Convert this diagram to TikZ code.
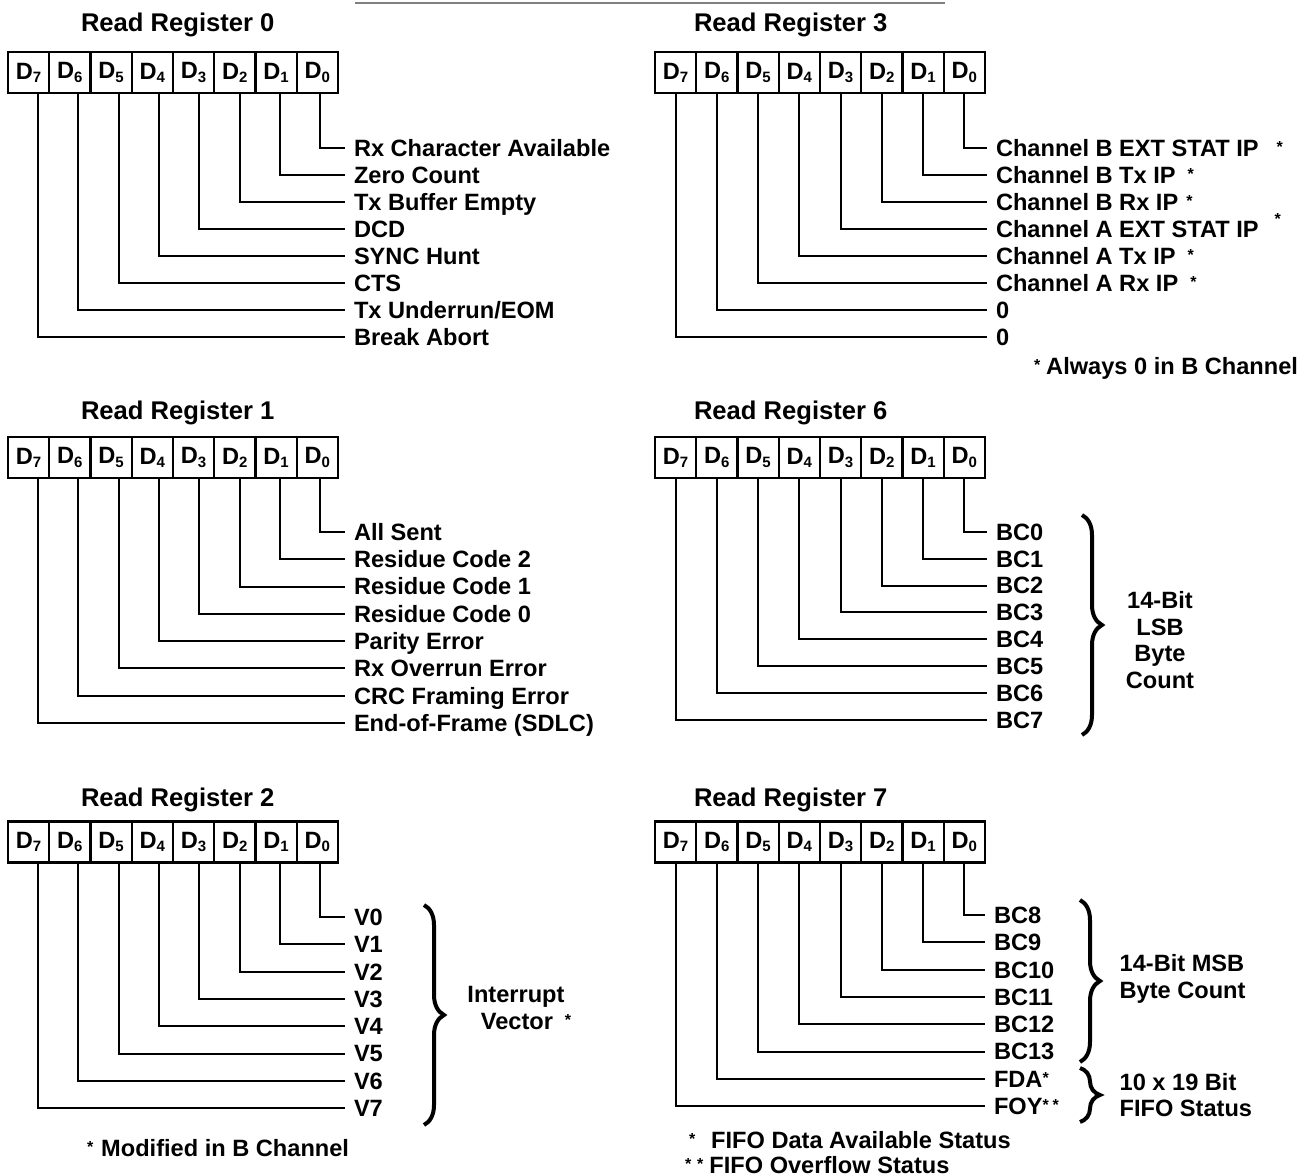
\documentclass[tikz,border=0pt]{standalone}
\usepackage{fontspec}
\setmainfont{Liberation Sans}
\usepackage{tikz}
\usetikzlibrary{decorations.pathreplacing}

\newcommand\bitsub[1]{\raisebox{-0.25ex}{\fontsize{7.5}{7.5}\selectfont #1}}
\newcommand\mk{\raisebox{0.3ex}{\fontsize{8}{8}\selectfont *}}

\begin{document}
\begin{tikzpicture}[
  x=0.5pt, y=-0.5pt,
  font=\bfseries\fontsize{11.8}{13.2}\selectfont,
  line width=1pt,
  cell/.style={draw, line width=1.2pt, minimum width=20.625pt, minimum height=20.5pt, inner sep=0pt},
  lbl/.style={anchor=west, inner xsep=4pt, inner ysep=0pt, text height=8.4pt, text depth=0pt},
  title/.style={anchor=base west, inner sep=0pt, font=\bfseries\fontsize{12.8}{14}\selectfont},
  note/.style={anchor=west, inner sep=0pt, text height=8.4pt, text depth=0pt},
  brc/.style={decorate, decoration={brace, amplitude=10pt}, line width=2pt},
]
  \useasboundingbox (0,0) rectangle (1308,1176);
  \draw[gray, line width=1pt] (355,3) -- (945,3);

  % Read Register 0
  \node[title] (t0) at (80,32) {Read Register 0};
  \foreach \b in {0,...,7}
    \node[cell] (r0d\b) at ({28.6+41.25*(7-\b)},72.5) {D\bitsub{\b}};
  \foreach \t [count=\i from 0] in {Rx Character Available, Zero Count,
      Tx Buffer Empty, DCD, SYNC Hunt, CTS, Tx Underrun/EOM, Break Abort}
  {
    \node[lbl] (r0l\i) at (345,{148+27*\i}) {\t};
    \draw ([xshift={1.4pt+0.475pt*\i}]r0d\i.south) |- (r0l\i.west);
  }

  % Read Register 3
  \node[title] (t3) at (693,32) {Read Register 3};
  \foreach \b in {0,...,7}
    \node[cell] (r3d\b) at ({675.6+41.25*(7-\b)},72.5) {D\bitsub{\b}};
  \foreach \t [count=\i from 0] in {Channel B EXT STAT IP\hspace{9pt}\mk,
      Channel B Tx IP\hspace{6pt}\mk, Channel B Rx IP\hspace{4pt}\mk,
      Channel A EXT STAT IP\hspace{8pt}\raisebox{0.7ex}{\mk},
      Channel A Tx IP\hspace{6pt}\mk, Channel A Rx IP\hspace{6pt}\mk, 0, 0}
  {
    \node[lbl] (r3l\i) at (987,{148+27*\i}) {\t};
    \draw (r3d\i.south) |- (r3l\i.west);
  }
  \node[note] (n3) at (1033,366) {\mk\hspace{3pt}Always 0 in B Channel};

  % Read Register 1
  \node[title] (t1) at (80,420) {Read Register 1};
  \foreach \b in {0,...,7}
    \node[cell] (r1d\b) at ({28.6+41.25*(7-\b)},457.5) {D\bitsub{\b}};
  \foreach \t [count=\i from 0] in {All Sent, Residue Code 2, Residue Code 1,
      Residue Code 0, Parity Error, Rx Overrun Error, CRC Framing Error,
      End-of-Frame (SDLC)}
  {
    \node[lbl] (r1l\i) at (345,{532+27.3*\i}) {\t};
    \draw ([xshift={1.4pt+0.475pt*\i}]r1d\i.south) |- (r1l\i.west);
  }

  % Read Register 6
  \node[title] (t6) at (693,420) {Read Register 6};
  \foreach \b in {0,...,7}
    \node[cell] (r6d\b) at ({675.6+41.25*(7-\b)},457.5) {D\bitsub{\b}};
  \foreach \t [count=\i from 0] in {BC0, BC1, BC2, BC3, BC4, BC5, BC6, BC7}
  {
    \node[lbl] (r6l\i) at (987,{532+26.8*\i}) {\t};
    \draw (r6d\i.south) |- (r6l\i.west);
  }
  \draw[brc] (1082,515) -- (1082,735);
  \node[align=center] (lsb) at (1160,640) {14-Bit\\LSB\\Byte\\Count};

  % Read Register 2
  \node[title] (t2) at (80,806) {Read Register 2};
  \foreach \b in {0,...,7}
    \node[cell] (r2d\b) at ({28.6+41.25*(7-\b)},842) {D\bitsub{\b}};
  \foreach \t [count=\i from 0] in {V0, V1, V2, V3, V4, V5, V6, V7}
  {
    \node[lbl] (r2l\i) at (345,{917+27.3*\i}) {\t};
    \draw ([xshift={1.4pt+0.475pt*\i}]r2d\i.south) |- (r2l\i.west);
  }
  \draw[brc] (424,905) -- (424,1125);
  \node[align=center] (iv) at (516,1008) {Interrupt\\\hspace{10pt}Vector\hspace{6pt}\mk};
  \node[note] (n2) at (86,1148) {\mk\hspace{4pt}Modified in B Channel};

  % Read Register 7
  \node[title] (t7) at (693,806) {Read Register 7};
  \foreach \b in {0,...,7}
    \node[cell] (r7d\b) at ({675.6+41.25*(7-\b)},842) {D\bitsub{\b}};
  \foreach \t [count=\i from 0] in {BC8, BC9, BC10, BC11, BC12, BC13,
      FDA\mk, FOY\mk\hspace{2pt}\mk}
  {
    \node[lbl] (r7l\i) at (985,{915+27.3*\i}) {\t};
    \draw (r7d\i.south) |- (r7l\i.west);
  }
  \draw[brc] (1080,900) -- (1080,1062);
  \draw[brc] (1080,1068) -- (1080,1122);
  \node[align=left, anchor=west] (msb) at (1112,979) {14-Bit MSB\\Byte Count};
  \node[align=left, anchor=west] (fifo) at (1112,1095) {10 x 19 Bit\\FIFO Status};
  \node[note] (n7a) at (688,1140) {\mk\hspace{8pt}FIFO Data Available Status};
  \node[note] (n7b) at (684,1165) {\mk\hspace{3pt}\mk\hspace{3pt}FIFO Overflow Status};
\end{tikzpicture}
\end{document}
